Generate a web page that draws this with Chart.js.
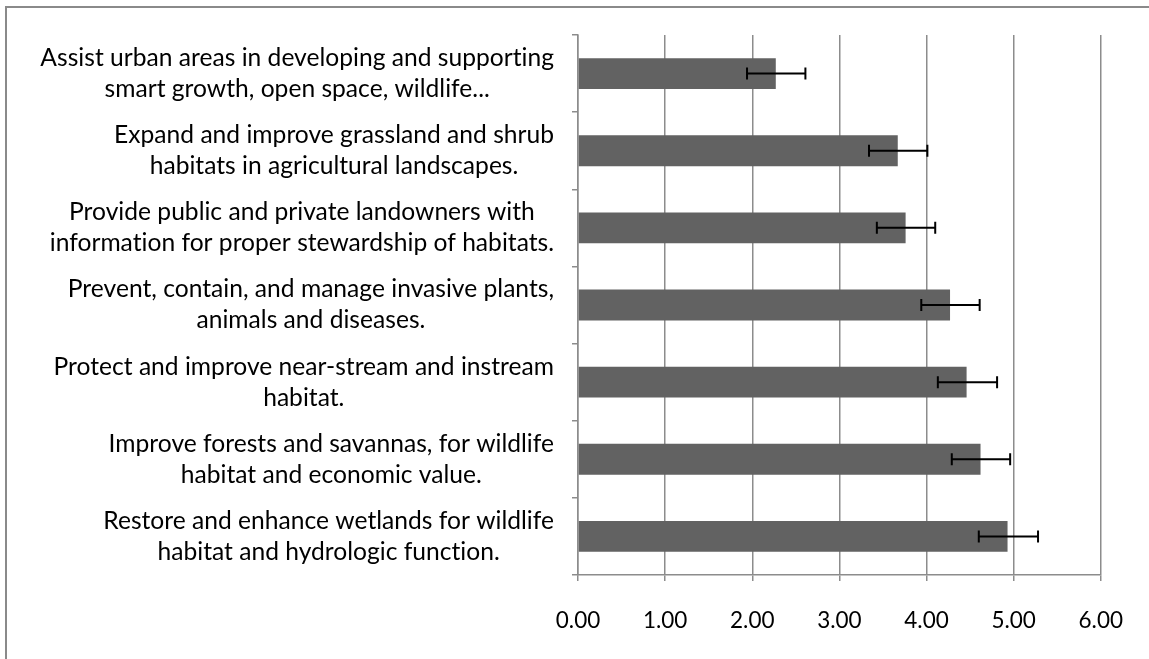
<!DOCTYPE html>
<html>
<head>
<meta charset="utf-8">
<script src="https://cdn.jsdelivr.net/npm/chart.js@4.4.1/dist/chart.umd.min.js"></script>
<style>
    body { margin: 0; background: #fff; }
    #wrap { position: relative; width: 1149px; height: 659px; overflow: hidden; }
    #frame { position: absolute; left: 5px; top: 6px; width: 1160px; height: 670px;
             border-top: 2px solid #8a8a8a; border-left: 2px solid #8a8a8a; }
    canvas { position: absolute; left: 0; top: 0; }
</style>
</head>
<body>
<div id="wrap">
    <div id="frame"></div>
    <canvas id="chart" width="1149" height="659"></canvas>
</div>
<script>
// Category labels (already wrapped the way the source chart wraps them)
const categories = [
    ['Assist urban areas in developing and supporting', 'smart growth, open space, wildlife...'],
    ['Expand and improve grassland and shrub', 'habitats in agricultural landscapes.'],
    ['Provide public and private landowners with', 'information for proper stewardship of habitats.'],
    ['Prevent, contain, and manage invasive plants,', 'animals and diseases.'],
    ['Protect and improve near-stream and instream', 'habitat.'],
    ['Improve forests and savannas, for wildlife', 'habitat and economic value.'],
    ['Restore and enhance wetlands for wildlife', 'habitat and hydrologic function.']
];

// Mean scores and the error bar ends
const meanScores = [2.27, 3.67, 3.76, 4.27, 4.46, 4.62, 4.93];
const errorLow = [1.94, 3.34, 3.43, 3.94, 4.13, 4.29, 4.60];
const errorHigh = [2.61, 4.01, 4.10, 4.61, 4.81, 4.96, 5.28];

// x axis ticks
const xTicks = [0, 1, 2, 3, 4, 5, 6];

const FONT = 'Lato, "Open Sans", sans-serif';
const GRID = '#8c8c8c';

// draws the whiskers for every bar
const errorBars = {
    id: 'errorBars',
    afterDatasetsDraw(chart) {
        const ctx = chart.ctx;
        const x = chart.scales.x;
        const meta = chart.getDatasetMeta(0);
        ctx.save();
        ctx.strokeStyle = '#000';
        ctx.lineWidth = 2;
        meta.data.forEach((bar, i) => {
            const x1 = x.getPixelForValue(errorLow[i]);
            const x2 = x.getPixelForValue(errorHigh[i]);
            const y = bar.y;
            ctx.beginPath();
            ctx.moveTo(x1, y); ctx.lineTo(x2, y);
            ctx.moveTo(x1, y - 6); ctx.lineTo(x1, y + 6);
            ctx.moveTo(x2, y - 6); ctx.lineTo(x2, y + 6);
            ctx.stroke();
        });
        ctx.restore();
    }
};

// category labels: block sits right of the axis, each line centred in the block
const wrappedLabels = {
    id: 'wrappedLabels',
    afterDraw(chart) {
        const ctx = chart.ctx;
        const yScale = chart.scales.y;
        const right = yScale.right - 24;
        const lineH = 31;
        ctx.save();
        ctx.font = '24.6px ' + FONT;
        // tiny spacing stops Lato's "ti" ligature
        if ('letterSpacing' in ctx) ctx.letterSpacing = '0.01px';
        ctx.fillStyle = '#000';
        ctx.textAlign = 'center';
        ctx.textBaseline = 'middle';
        categories.forEach((lines, i) => {
            const yc = yScale.getPixelForValue(i);
            const w = Math.max(...lines.map(l => ctx.measureText(l).width));
            const cx = right - w / 2;
            const top = yc - (lines.length - 1) * lineH / 2;
            lines.forEach((l, j) => ctx.fillText(l, cx, top + j * lineH));
        });
        ctx.restore();
    }
};

new Chart(document.getElementById('chart'), {
    type: 'bar',
    data: {
        labels: categories,
        datasets: [{
            data: meanScores,
            backgroundColor: '#626262',
            borderWidth: 0,
            barPercentage: 0.4,
            categoryPercentage: 1
        }]
    },
    options: {
        indexAxis: 'y',
        responsive: false,
        animation: false,
        layout: { padding: { left: 0, top: 35, right: 48, bottom: 0 } },
        plugins: {
            legend: { display: false },
            tooltip: { enabled: false }
        },
        scales: {
            x: {
                min: xTicks[0],
                max: xTicks[xTicks.length - 1],
                afterBuildTicks: (scale) => { scale.ticks = xTicks.map(v => ({ value: v })); },
                afterFit: (scale) => { scale.height = 84; },
                ticks: {
                    font: { family: FONT, size: 22.5 },
                    color: '#000',
                    padding: 26,
                    callback: (v) => Number(v).toFixed(2)
                },
                grid: { color: GRID, lineWidth: 1.5, tickLength: 6 },
                border: { color: GRID, width: 1.5 }
            },
            y: {
                afterFit: (scale) => { scale.width = 578; },
                ticks: { display: false },
                grid: { color: GRID, lineWidth: 1.5, tickLength: 6, drawOnChartArea: false, offset: true },
                border: { color: GRID, width: 1.5 }
            }
        }
    },
    plugins: [errorBars, wrappedLabels]
});
</script>
</body>
</html>
